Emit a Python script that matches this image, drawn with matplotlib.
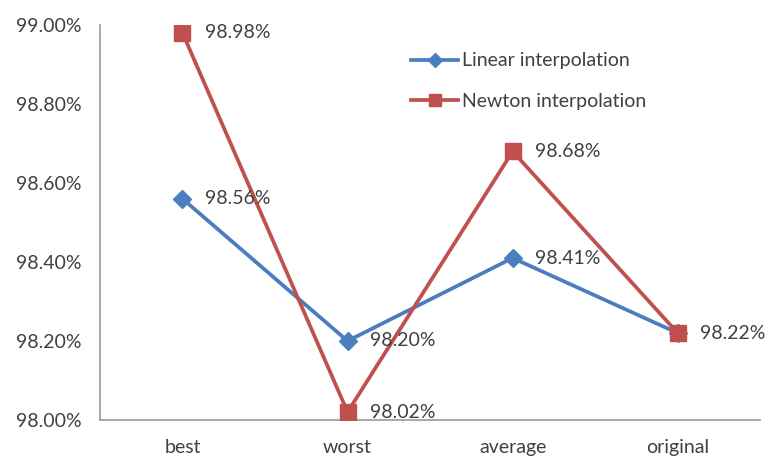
import matplotlib
matplotlib.use("Agg")
import matplotlib.pyplot as plt
from matplotlib.ticker import FuncFormatter

categories = ["best", "worst", "average", "original"]
linear_vals = [98.56, 98.20, 98.41, 98.22]
newton_vals = [98.98, 98.02, 98.68, 98.22]
yticks = [98.00, 98.20, 98.40, 98.60, 98.80, 99.00]

plt.rcParams["font.family"] = ["Lato", "DejaVu Sans"]
txt = "#404040"
blue = "#4A7EBF"
red = "#C0504D"
fs = 14

fig = plt.figure(figsize=(7.66, 4.63), dpi=100)
ax = fig.add_axes([0.1305, 0.093, 0.862, 0.853])

x = list(range(len(categories)))
ax.plot(x, linear_vals, color=blue, lw=2.7, marker="D", ms=9,
        mfc=blue, mec=blue, label="Linear interpolation", zorder=3)
ax.plot(x, newton_vals, color=red, lw=2.7, marker="s", ms=11.5,
        mfc=red, mec=red, label="Newton interpolation", zorder=4)

# value labels to the right of each point (shared value at "original" labelled once)
labels = []
for xi in x:
    labels.append((xi, linear_vals[xi]))
    if newton_vals[xi] != linear_vals[xi]:
        labels.append((xi, newton_vals[xi]))
for xi, v in labels:
    ax.annotate(f"{v:.2f}%", (xi, v), xytext=(16, 0), textcoords="offset points",
                va="center", ha="left", fontsize=fs, color=txt, zorder=5)

ax.set_xlim(-0.5, len(categories) - 0.5)
ax.set_ylim(98.0, 99.0)
ax.set_xticks(x)
ax.set_xticklabels(categories)
ax.set_yticks(yticks)
ax.yaxis.set_major_formatter(FuncFormatter(lambda v, p: f"{v:.2f}%"))
ax.tick_params(axis="both", length=0, labelsize=fs, colors=txt)
ax.tick_params(axis="x", pad=14)
ax.tick_params(axis="y", pad=13)

for s in ["top", "right"]:
    ax.spines[s].set_visible(False)
for s in ["left", "bottom"]:
    ax.spines[s].set_color("#9a9a9a")
    ax.spines[s].set_linewidth(1.2)

leg = ax.legend(loc="upper left", bbox_to_anchor=(0.445, 0.975), frameon=False,
                fontsize=fs, handlelength=2.4, handletextpad=0.2,
                labelspacing=1.2, labelcolor=txt)
for h in leg.legend_handles:
    h.set_markersize(h.get_markersize() * 0.8)

fig.savefig("out.png", dpi=100)
